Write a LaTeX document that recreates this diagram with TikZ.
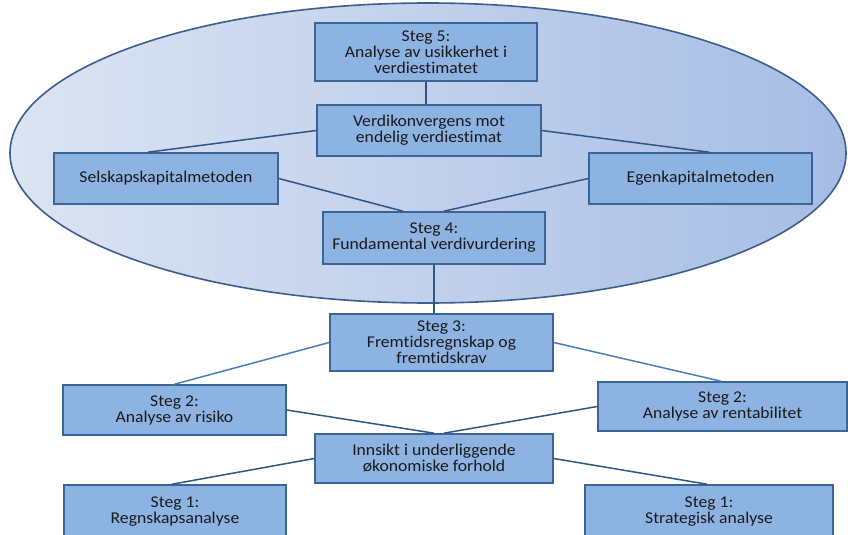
\documentclass[tikz,border=0pt]{standalone}
\usepackage{fontspec}
\setmainfont[FakeStretch=1.07, Ligatures=NoCommon]{Carlito}
\usetikzlibrary{calc}
\definecolor{boxfill}{HTML}{8DB3E2}
\definecolor{boxline}{HTML}{3B6596}
\definecolor{linkdark}{HTML}{2F5686}
\definecolor{linklight}{HTML}{4A7EBB}
\definecolor{ellleft}{HTML}{DCE4F3}
\definecolor{ellright}{HTML}{A6BDE4}
\definecolor{ellline}{HTML}{3C5F8E}
\definecolor{txt}{HTML}{1A1A1A}
\tikzset{
  box/.style={draw=boxline, fill=boxfill, line width=1.6pt, inner sep=0pt,
    align=center, text=txt, font=\fontsize{16.5}{16}\selectfont},
  link/.style={draw=linkdark, line width=1.5pt},
  linkl/.style={draw=linklight, line width=1.5pt}
}
\begin{document}
\begin{tikzpicture}[x=1pt,y=-1pt]
\useasboundingbox (0,0) rectangle (848,535);
\fill[left color=ellleft, right color=ellright, draw=ellline, line width=1.6pt]
  (428,153) ellipse [x radius=418, y radius=150];
\node[box, minimum width=222pt, minimum height=58pt] (s5) at (426,52) {Steg 5:\\Analyse av usikkerhet i\\verdiestimatet};
\node[box, minimum width=224pt, minimum height=51pt] (vk) at (429,130.5) {Verdikonvergens mot\\endelig verdiestimat};
\node[box, minimum width=224pt, minimum height=51pt] (sk) at (166,178.5) {Selskapskapitalmetoden};
\node[box, minimum width=223pt, minimum height=51pt] (ek) at (700.5,178.5) {Egenkapitalmetoden};
\node[box, minimum width=222pt, minimum height=52pt] (s4) at (434,238) {Steg 4:\\Fundamental verdivurdering};
\node[box, minimum width=223pt, minimum height=57pt] (s3) at (441.5,342.5) {Steg 3:\\Fremtidsregnskap og\\fremtidskrav};
\node[box, minimum width=223pt, minimum height=50pt] (ri) at (174.5,410) {Steg 2:\\Analyse av risiko};
\node[box, minimum width=249pt, minimum height=49pt] (re) at (722.5,406.5) {Steg 2:\\Analyse av rentabilitet};
\node[box, minimum width=238pt, minimum height=49pt] (in) at (434,458.5) {Innsikt i underliggende\\økonomiske forhold};
\node[box, minimum width=222pt, minimum height=62pt, text depth=12pt] (rg) at (175,516) {Steg 1:\\Regnskapsanalyse};
\node[box, minimum width=248pt, minimum height=62pt, text depth=12pt] (st) at (709,516) {Steg 1:\\Strategisk analyse};
% connectors
\draw[link] (s5.south) -- (s5.south |- vk.north);
\draw[link] (vk.west) -- ([xshift=-18pt]sk.north);
\draw[link] (vk.east) -- ([xshift=8.5pt]ek.north);
\draw[link] (sk.east) -- ([xshift=-31pt]s4.north);
\draw[link] (ek.west) -- ([xshift=10pt]s4.north);
\draw[link] (s4.south) -- (s4.south |- s3.north);
\draw[linkl] (s3.west) -- (ri.north);
\draw[linkl] (s3.east) -- ([xshift=-1.5pt]re.north);
\draw[link] (ri.east) -- (in.north);
\draw[link] (re.west) -- ([xshift=10pt]in.north);
\draw[link] (in.west) -- ([xshift=-3pt]rg.north);
\draw[link] (in.east) -- ([xshift=-2pt]st.north);
\end{tikzpicture}
\end{document}
